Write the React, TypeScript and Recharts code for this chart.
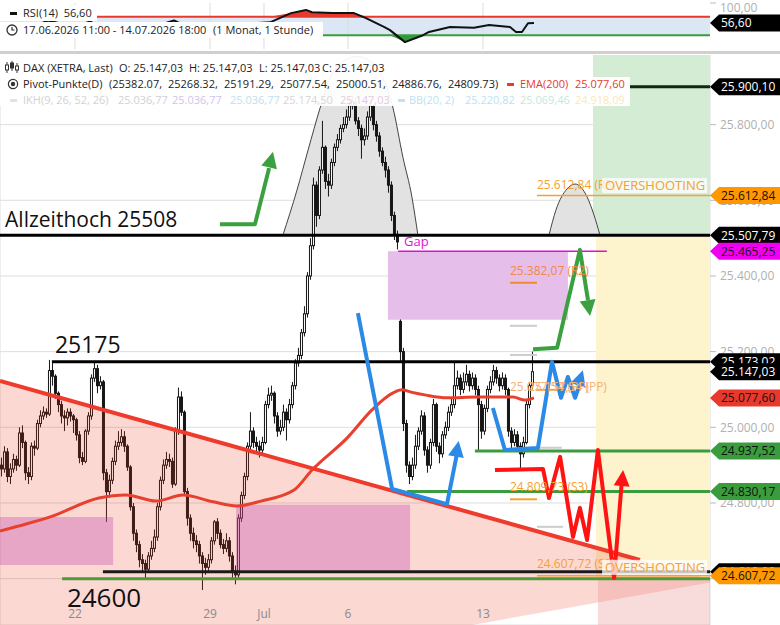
import React from "react";
import {
  Area,
  Bar,
  CartesianGrid,
  ComposedChart,
  ReferenceArea,
  ReferenceLine,
  Scatter,
  XAxis,
  YAxis,
} from "recharts";

const FONT = "'Open Sans', 'DejaVu Sans', sans-serif";

// x = hourly candle slot (17.06. 11:00 … 14.07. 18:00, then empty room to the right)
const X_MAX = 236.67;
const Y_MIN = 24477.5;
const Y_MAX = 25984;

const DAY_TICKS = [25, 70, 88, 116, 161];
const DAY_LABELS = ["22", "29", "Jul", "6", "13"];
const DAY_LABEL_Y = 24495;
const Y_TICKS = [24600, 24800, 25000, 25200, 25400, 25600, 25800];

const FIRST_OPEN = 24900;
const GAP_OPENS: Record<number, number> = { 133: 25280 };

const CLOSE = [
  24890, 24935, 24870, 24890, 24915, 24900, 24985,
  24960, 24880, 24870, 24950, 24945, 25010, 25030, 25040, 25035,
  25150, 25135, 25090, 25060, 25030, 25025, 25040, 25030, 25020,
  24980, 24920, 24910, 24990, 25030, 25130, 25155, 25110, 25120,
  24880, 24830, 24860, 24910, 24950, 24960, 24975, 24950, 24895,
  24790, 24720, 24690, 24650, 24640, 24625, 24660, 24680, 24710,
  24790, 24860, 24900, 24915, 24910, 24850, 24990, 25080, 25040,
  24830, 24760, 24720, 24700, 24690, 24660, 24640, 24630, 24650,
  24700, 24750, 24720, 24690, 24680, 24700, 24660, 24620, 24610,
  24760, 24820, 24870, 24950, 24990, 24960, 24950, 24940, 24960,
  25060, 25085, 25090, 25030, 24990, 25000, 25040, 25020, 25060,
  25110, 25170, 25190, 25250, 25300, 25400, 25480, 25640, 25560,
  25680, 25740, 25650, 25640, 25700, 25740, 25760, 25790, 25800,
  25820, 25850, 25860, 25810, 25790, 25760, 25770, 25820, 25850,
  25800, 25770, 25730, 25700, 25680, 25640, 25560, 25510, 25490,
  25200, 25010, 24900, 24870, 24900, 24950, 24990, 25030, 24940,
  24900, 24960, 25060, 24950, 24930, 24980, 25000, 25040, 25060,
  25110, 25130, 25100, 25120, 25140, 25110, 25130, 25100, 25060,
  24990, 25050, 25100, 25120, 25150, 25130, 25110, 25130, 25100,
  24990, 24960, 24980, 24950, 24930, 24960, 25060, 25110, 25147.03,
];

const HIGH = [
  24920, 24950, 24945, 24905, 24930, 24925, 25000,
  25005, 24965, 24895, 24960, 24965, 25020, 25045, 25055, 25050,
  25178, 25175, 25140, 25095, 25070, 25045, 25050, 25050, 25035,
  25025, 24990, 24935, 24995, 25040, 25140, 25175, 25165, 25135,
  25125, 24890, 24875, 24920, 24965, 24990, 24995, 24990, 24955,
  24900, 24800, 24730, 24700, 24665, 24650, 24670, 24700, 24730,
  24800, 24870, 24915, 24935, 24930, 24920, 25000, 25105, 25095,
  25045, 24840, 24770, 24735, 24715, 24700, 24670, 24655, 24665,
  24710, 24755, 24760, 24730, 24705, 24720, 24710, 24670, 24635,
  24770, 24830, 24880, 24960, 25040, 25000, 24975, 24965, 24975,
  25070, 25105, 25110, 25095, 25040, 25020, 25060, 25050, 25075,
  25120, 25180, 25210, 25260, 25320, 25410, 25500, 25660, 25650,
  25690, 25810, 25745, 25670, 25710, 25750, 25775, 25800, 25820,
  25840, 25870, 25875, 25870, 25820, 25800, 25790, 25835, 25865,
  25855, 25810, 25780, 25740, 25715, 25690, 25650, 25570, 25520,
  25285, 25210, 25020, 24910, 24920, 24980, 25000, 25045, 25040,
  24950, 24970, 25075, 25065, 24960, 24990, 25015, 25055, 25075,
  25175, 25150, 25140, 25145, 25165, 25150, 25145, 25140, 25110,
  25070, 25060, 25110, 25135, 25165, 25160, 25140, 25145, 25140,
  25105, 25000, 24995, 24990, 24960, 24975, 25070, 25120, 25200,
];

const LOW = [
  24870, 24880, 24855, 24850, 24880, 24885, 24895,
  24945, 24860, 24850, 24860, 24925, 24940, 25000, 25020, 25025,
  25030, 25110, 25075, 25040, 25010, 24990, 25005, 25015, 24985,
  24965, 24905, 24900, 24905, 24980, 25020, 25120, 25090, 25100,
  24860, 24750, 24815, 24850, 24900, 24940, 24950, 24935, 24885,
  24780, 24700, 24670, 24630, 24615, 24600, 24615, 24650, 24670,
  24700, 24780, 24850, 24890, 24895, 24840, 24845, 24980, 25030,
  24820, 24740, 24700, 24680, 24670, 24640, 24570, 24610, 24620,
  24640, 24690, 24705, 24680, 24665, 24670, 24645, 24600, 24585,
  24600, 24750, 24810, 24860, 24940, 24945, 24930, 24920, 24930,
  24955, 25050, 25070, 25010, 24975, 24980, 24990, 24965, 25010,
  25050, 25100, 25160, 25180, 25240, 25290, 25390, 25470, 25530,
  25550, 25670, 25630, 25610, 25630, 25690, 25730, 25750, 25780,
  25790, 25810, 25840, 25800, 25770, 25710, 25745, 25760, 25810,
  25785, 25755, 25715, 25690, 25660, 25620, 25545, 25495, 25470,
  25170, 24990, 24880, 24850, 24860, 24890, 24940, 24980, 24925,
  24880, 24890, 24950, 24935, 24905, 24920, 24970, 24990, 25030,
  25050, 25100, 25085, 25090, 25110, 25095, 25100, 25085, 24940,
  24970, 24980, 25040, 25090, 25110, 25115, 25095, 25100, 25085,
  24975, 24945, 24950, 24935, 24890, 24920, 24955, 25050, 25100,
];

const EMA_X = [0, 9, 17, 33, 42, 52, 61, 71, 79, 87, 98, 104, 116, 124, 131, 134, 137, 142, 149, 159, 171, 175, 178];
const EMA_V = [24726, 24745, 24764, 24813, 24821, 24805, 24821, 24803, 24792, 24805, 24834, 24887, 24974, 25046, 25091, 25099, 25093, 25085, 25078, 25080, 25080, 25072, 25077.6];

const RSI_X = [0, 2, 10, 16, 25, 30, 35, 45, 52, 58, 65, 75, 82, 90, 97, 102, 104, 111, 118, 122, 128, 130, 135, 141, 143, 150, 158, 163, 170, 172, 174, 176, 178];
const RSI_V = [56.5, 50, 45, 62, 48, 60, 42, 35, 50, 62, 40, 38, 55, 58, 78, 85, 80, 78, 78, 67, 48, 41, 15, 30, 37, 48, 46, 52, 48, 37, 37, 56, 56.6];
const RSI_LAST = 56.6;

// price levels
const TARGET_UP = 25900.1;
const R3 = 25612.84;
const ATH = 25507.79;
const GAP_LEVEL = 25465.25;
const RES = 25173.02;
const LAST = 25147.03;
const EMA_LAST = 25077.6;
const SUP_1 = 24937.52;
const SUP_2 = 24830.17;
const S3_NEXT = 24607.72;
const FLOOR_DARK = 24618;
const FLOOR_GREEN = 24600;
const ZONE_SPLIT = 24603;

const PIVOTS_D = [25382.07, 25268.32, 25191.29, 25077.54, 25000.51, 24886.76, 24809.73];
const PIVOTS_NEXT = [25099, 24946, 24737];

// drawings, in (slot, price)
const TREND = [{ x: 0, y: 25122.5 }, { x: 213.3, y: 24649.3 }];
const WEDGE = [
  { x: 0, lo: Y_MIN, hi: 25122.5 },
  { x: 157.3, lo: Y_MIN, hi: 24773.6 },
  { x: X_MAX, lo: 24589.5, hi: 24597.5 },
];
const DOME_BIG = [
  { x: 94.3, y: ATH }, { x: 99, y: 25627 }, { x: 102.7, y: 25733 }, { x: 106.7, y: 25844 },
  { x: 110, y: 25923 }, { x: 114, y: 25965 }, { x: 119, y: 25980 }, { x: 124, y: 25965 },
  { x: 127.7, y: 25923 }, { x: 131, y: 25844 }, { x: 134.3, y: 25714 }, { x: 137.3, y: 25609 },
  { x: 139.3, y: ATH },
];
const DOME_SMALL = [
  { x: 183, y: ATH }, { x: 185.3, y: 25574 }, { x: 189, y: 25630 }, { x: 191.7, y: 25643 },
  { x: 195.7, y: 25609 }, { x: 198, y: 25561 }, { x: 200, y: ATH },
];
const BLUE_1 = [{ x: 119.3, y: 25302 }, { x: 130.7, y: 24837 }, { x: 149, y: 24797 }, { x: 152.2, y: 24925 }];
const BLUE_2 = [
  { x: 164.3, y: 25051 }, { x: 168.3, y: 24940 }, { x: 179.3, y: 24945 }, { x: 184, y: 25173 },
  { x: 187, y: 25078 }, { x: 189.3, y: 25133 }, { x: 191.7, y: 25078 }, { x: 193.7, y: 25125 },
];
const GREEN_1 = [{ x: 73.3, y: 25537 }, { x: 85, y: 25537 }, { x: 89.7, y: 25685 }];
const GREEN_2 = [{ x: 177.7, y: 25206 }, { x: 185.7, y: 25210 }, { x: 193.3, y: 25469 }, { x: 196, y: 25336 }];
const RED_1 = [
  { x: 165, y: 24887 }, { x: 181, y: 24890 }, { x: 183, y: 24813 }, { x: 186.7, y: 24922 },
  { x: 191, y: 24710 }, { x: 193.3, y: 24787 }, { x: 195.7, y: 24702 }, { x: 199.3, y: 24940 },
  { x: 204.7, y: 24602 }, { x: 207.2, y: 24850 },
];

const fmt = (v: number) => {
  const [i, d] = v.toFixed(2).split(".");
  return i.replace(/\B(?=(\d{3})+(?!\d))/g, ".") + "," + d;
};

const candles = CLOSE.map((c, i) => ({
  x: i + 0.5,
  open: GAP_OPENS[i] ?? (i === 0 ? FIRST_OPEN : CLOSE[i - 1]),
  close: c,
  high: HIGH[i],
  low: LOW[i],
}));
const emaPts = EMA_X.map((x, i) => ({ x, y: EMA_V[i] }));
const rsiPts = RSI_X.map((x, i) => ({ x, y: RSI_V[i] }));

const Candle = (p: any) => {
  const { x, y, width, height, payload } = p;
  if (!payload) return null;
  const { open, close, high, low } = payload;
  const cx = x + width / 2;
  const span = high - low || 1;
  const at = (v: number) => y + ((high - v) / span) * height;
  const top = at(Math.max(open, close));
  const bot = at(Math.min(open, close));
  const up = close >= open;
  return (
    <g>
      <line x1={cx} x2={cx} y1={y} y2={y + height} stroke="#161616" strokeWidth={1} />
      <rect x={cx - 1} y={top} width={2} height={Math.max(bot - top, 0.8)} fill={up ? "#fff" : "#161616"} stroke="#161616" strokeWidth={1} />
    </g>
  );
};

const none = () => <g />;

function path(key: string, pts: any[], color: string, width: number, joint = "linear") {
  return (
    <Scatter
      key={key}
      data={pts}
      dataKey="y"
      fill={color}
      line={{ stroke: color, strokeWidth: width, strokeLinejoin: "round", strokeLinecap: "butt" }}
      lineJointType={joint as any}
      shape={none}
      isAnimationActive={false}
      zIndex={600}
    />
  );
}

function head(key: string, x: number, y: number, color: string, angle: number) {
  return (
    <Scatter
      key={key}
      data={[{ x, y }]}
      dataKey="y"
      isAnimationActive={false}
      zIndex={650}
      shape={(p: any) => (
        <polygon
          points={`${p.cx},${p.cy} ${p.cx - 8},${p.cy + 16} ${p.cx + 8},${p.cy + 16}`}
          fill={color}
          transform={`rotate(${angle} ${p.cx} ${p.cy})`}
        />
      )}
    />
  );
}

function note(key: string, x: number, y: number, text: string, color: string, size: number, box = false, anchor = "start") {
  return (
    <Scatter
      key={key}
      data={[{ x, y }]}
      dataKey="y"
      isAnimationActive={false}
      zIndex={2000}
      shape={(p: any) => (
        <g>
          {box && <rect x={p.cx - 3} y={p.cy - 12} width={105} height={15} fill="#fff" fillOpacity={0.75} />}
          <text x={p.cx} y={p.cy} fill={color} fontSize={size} fontFamily={FONT} textAnchor={anchor}>
            {text}
          </text>
        </g>
      )}
    />
  );
}

function tag(key: string, v: number, bg: string, fg: string, text?: string) {
  return (
    <Scatter
      key={key}
      data={[{ x: X_MAX, y: v }]}
      dataKey="y"
      isAnimationActive={false}
      zIndex={2100}
      shape={(p: any) => (
        <g>
          <polygon
            points={`${p.cx},${p.cy} ${p.cx + 9},${p.cy - 8.5} 780,${p.cy - 8.5} 780,${p.cy + 8.5} ${p.cx + 9},${p.cy + 8.5}`}
            fill={bg}
          />
          <text x={p.cx + 11} y={p.cy + 4.5} fill={fg} fontSize={12} fontFamily={FONT}>
            {text ?? fmt(v)}
          </text>
        </g>
      )}
    />
  );
}

function seg(key: string, v: number, from: number, to: number, color: string, width: number) {
  return (
    <ReferenceLine
      key={key}
      segment={[{ x: from, y: v }, { x: to, y: v }]}
      stroke={color}
      strokeWidth={width}
      zIndex={450}
    />
  );
}

function RsiChart() {
  return (
    <ComposedChart width={780} height={52} data={rsiPts} margin={{ top: 3, right: 0, bottom: 3, left: 0 }}>
      <XAxis type="number" dataKey="x" domain={[0, X_MAX]} hide />
      <YAxis
        orientation="right"
        dataKey="y"
        width={70}
        domain={[0, 100]}
        ticks={[0, 100]}
        tickFormatter={fmt}
        tick={{ fill: "#b0b0b0", fontSize: 12, fontFamily: FONT }}
        tickLine={{ stroke: "#bbb" }}
        tickSize={6}
        tickMargin={4}
        axisLine={false}
      />
      <ReferenceArea x1={0} x2={X_MAX} y1={30} y2={70} fill="#dbe7f5" fillOpacity={1} stroke="none" zIndex={-50} />
      {DAY_TICKS.map((t) => (
        <ReferenceLine key={"v" + t} x={t} stroke="#dddddd" zIndex={-40} />
      ))}
      <Area
        dataKey={(d: any) => [70, Math.max(d.y, 70)]}
        type="linear"
        fill="#e8392c"
        fillOpacity={1}
        stroke="none"
        isAnimationActive={false}
        zIndex={100}
      />
      <Area
        dataKey={(d: any) => [Math.min(d.y, 30), 30]}
        type="linear"
        fill="#2f9a3a"
        fillOpacity={1}
        stroke="none"
        isAnimationActive={false}
        zIndex={100}
      />
      <ReferenceLine y={70} stroke="#e8392c" strokeWidth={2} zIndex={450} />
      <ReferenceLine y={30} stroke="#3a9c3c" strokeWidth={2} zIndex={450} />
      {path("rsi", rsiPts, "#111", 2)}
      {tag("rsiTag", RSI_LAST, "#000", "#fff", "56,60")}
    </ComposedChart>
  );
}

function MainChart() {
  return (
    <ComposedChart width={780} height={570} data={candles} margin={{ top: 0, right: 0, bottom: 0, left: 0 }}>
      <XAxis
        type="number"
        dataKey="x"
        domain={[0, X_MAX]}
        ticks={DAY_TICKS}
        interval={0}
        height={0}
        tickSize={0}
        tickMargin={0}
        axisLine={false}
        tickLine={false}
        tick={false}
      />
      <YAxis
        orientation="right"
        dataKey="y"
        width={70}
        domain={[Y_MIN, Y_MAX]}
        ticks={Y_TICKS}
        tickFormatter={fmt}
        tick={{ fill: "#b0b0b0", fontSize: 12, fontFamily: FONT }}
        tickLine={{ stroke: "#bbb" }}
        tickSize={6}
        tickMargin={4}
        axisLine={false}
      />
      <CartesianGrid stroke="#dedede" />

      {/* zones */}
      <ReferenceArea x1={197.67} x2={X_MAX} y1={ATH} y2={Y_MAX} fill="#d3ecd3" fillOpacity={1} stroke="none" zIndex={50} />
      <ReferenceArea x1={198.67} x2={X_MAX} y1={ZONE_SPLIT} y2={ATH} fill="#fdf3cc" fillOpacity={1} stroke="none" zIndex={50} />
      <ReferenceArea x1={129.3} x2={189.3} y1={25284} y2={GAP_LEVEL} fill="#e5bfe9" fillOpacity={1} stroke="none" zIndex={50} />

      <Area data={DOME_BIG} dataKey={(d: any) => [ATH, d.y]} type="monotone" fill="#e2e2e2" fillOpacity={1} stroke="#444" strokeWidth={1} isAnimationActive={false} zIndex={60} />
      <Area data={DOME_SMALL} dataKey={(d: any) => [ATH, d.y]} type="monotone" fill="#e2e2e2" fillOpacity={1} stroke="#444" strokeWidth={1} isAnimationActive={false} zIndex={60} />

      {seg("floorDark", FLOOR_DARK, 34.3, X_MAX, "#1a1a1a", 3)}
      {seg("floorGreen", FLOOR_GREEN, 20.7, X_MAX, "#4c9a38", 3)}

      <Bar dataKey={(d: any) => [d.low, d.high]} barSize={3} shape={Candle} isAnimationActive={false} zIndex={300} />

      {/* pink wedge and boxes over the candles */}
      <Area data={WEDGE} dataKey={(d: any) => [d.lo, d.hi]} type="linear" fill="#ef3a22" fillOpacity={0.2} stroke="none" isAnimationActive={false} zIndex={350} />
      <ReferenceArea x1={0} x2={37.7} y1={24636} y2={24763} fill="#c34bb0" fillOpacity={0.35} stroke="none" zIndex={360} />
      <ReferenceArea x1={78.7} x2={136.7} y1={24623} y2={24795} fill="#c34bb0" fillOpacity={0.35} stroke="none" zIndex={360} />
      <ReferenceArea x1={199.33} x2={X_MAX} y1={Y_MIN} y2={ZONE_SPLIT} fill="#e88787" fillOpacity={0.3} stroke="none" zIndex={370} />

      {path("ema", emaPts, "#e8402f", 3, "monotoneX")}
      {path("trend", TREND, "#ee3b2b", 4)}

      {seg("ath", ATH, 0, X_MAX, "#000", 3)}
      {seg("res", RES, 17.3, X_MAX, "#000", 3)}
      {seg("sup1", SUP_1, 158.3, X_MAX, "#3a9c3c", 3)}
      {seg("sup2", SUP_2, 135.7, X_MAX, "#3a9c3c", 3)}
      {seg("up", TARGET_UP, 197.67, X_MAX, "#0f2a0f", 3)}
      {seg("gap", GAP_LEVEL, 132.7, 202.3, "#e010d0", 1.5)}
      {seg("r3", R3, 179, X_MAX, "#f7a030", 1.5)}
      {seg("s3n", S3_NEXT, 179, X_MAX, "#f7a030", 1.5)}
      {seg("pd0", PIVOTS_D[0], 170, 179, "#f08a30", 2)}
      {seg("pd1", PIVOTS_D[1], 170, 179, "#cccccc", 2)}
      {seg("pd2", PIVOTS_D[2], 170, 179, "#cccccc", 2)}
      {seg("pd6", PIVOTS_D[6], 170, 179, "#f7a030", 2)}
      {seg("pn0", PIVOTS_NEXT[0], 179, 187.7, "#f7a030", 2)}
      {seg("pn1", PIVOTS_NEXT[1], 179, 187.3, "#cccccc", 2)}
      {seg("pn2", PIVOTS_NEXT[2], 179, 187.7, "#cccccc", 2)}

      {path("blue1", BLUE_1, "#2a8ae6", 4)}
      {head("blue1h", 152.9, 24964, "#2a8ae6", 10)}
      {path("blue2", BLUE_2, "#2a8ae6", 4)}
      {head("blue2h", 194.3, 25151, "#2a8ae6", 18)}
      {path("green1", GREEN_1, "#3aa040", 4)}
      {head("green1h", 91, 25728, "#3aa040", 14)}
      {path("green2", GREEN_2, "#3aa040", 4)}
      {head("green2h", 196.7, 25294, "#3aa040", 171)}
      {path("red1", RED_1, "#ff1414", 4)}
      {head("red1h", 207.7, 24887, "#ff1414", 5)}

      {DAY_TICKS.map((t, i) => note("day" + t, t, DAY_LABEL_Y, DAY_LABELS[i], "#8a8a8a", 12, false, "middle"))}

      {note("ath", 1.7, 25530, "Allzeithoch 25508", "#111", 21)}
      {note("n25175", 18.3, 25196, "25175", "#111", 23)}
      {note("n24600", 22.3, 24526, "24600", "#111", 26)}
      {note("gapT", 134.7, 25480, "Gap", "#e010d0", 13)}
      {note("r3T", 179, 25630, "25.612,84 (R3)", "#f5a030", 12)}
      {note("r2T", 170, 25403, "25.382,07 (R2)", "#f0884a", 12)}
      {note("ppT", 170, 25096, "25.077,54 (PP)", "#f7b070", 12)}
      {note("ppT2", 176, 25096, "25.157,54 (PP)", "#f7b070", 12)}
      {note("s3T", 170, 24832, "24.809,73 (S3)", "#f5a030", 12)}
      {note("s3nT", 179, 24628, "24.607,72 (S3)", "#f5a030", 12)}
      {note("ov1", 201.7, 25627, "OVERSHOOTING", "#f5a030", 13, true)}
      {note("ov2", 201.7, 24618, "OVERSHOOTING", "#f5a030", 13, true)}

      {tag("tUp", TARGET_UP, "#000", "#fff")}
      {tag("tR3", R3, "#ff9800", "#111")}
      {tag("tAth", ATH, "#000", "#fff")}
      {tag("tGap", GAP_LEVEL, "#f000f0", "#111")}
      {tag("tRes", RES, "#000", "#fff")}
      {tag("tLast", LAST, "#000", "#fff")}
      {tag("tEma", EMA_LAST, "#e8392c", "#111")}
      {tag("tS1", SUP_1, "#3a9c3c", "#111")}
      {tag("tS2", SUP_2, "#3a9c3c", "#111")}
      {tag("tFloor", FLOOR_DARK, "#000", "#fff")}
      {tag("tS3", S3_NEXT, "#ff9800", "#111")}
    </ComposedChart>
  );
}

const T = ({ x, y, c = "#222", children }: any) => (
  <span style={{ position: "absolute", left: x, top: y, color: c, fontSize: 11, lineHeight: "14px", whiteSpace: "nowrap" }}>
    {children}
  </span>
);

export default function App() {
  return (
    <div style={{ position: "absolute", left: 0, top: 0, width: 780, height: 625, overflow: "hidden", background: "#fff", fontFamily: FONT }}>
      <div style={{ position: "absolute", left: 0, top: 0 }}>
        <RsiChart />
      </div>
      <div style={{ position: "absolute", left: 0, top: 5, width: 97, height: 16, background: "#fff" }} />
      <div style={{ position: "absolute", left: 10, top: 12, width: 7, height: 3, background: "#111" }} />
      <T x={23} y={6}>RSI(14)&nbsp;&nbsp;56,60</T>
      <div style={{ position: "absolute", left: 0, top: 22, width: 323, height: 16, background: "#fff" }} />
      <svg style={{ position: "absolute", left: 6, top: 24 }} width={12} height={12}>
        <circle cx={6} cy={6} r={5} fill="none" stroke="#333" strokeWidth={1.3} />
        <path d="M6 3 V6 H8.5" fill="none" stroke="#333" strokeWidth={1.2} />
      </svg>
      <T x={23} y={23}>17.06.2026 11:00 - 14.07.2026 18:00</T>
      <T x={213} y={23}>(1 Monat, 1 Stunde)</T>
      <div style={{ position: "absolute", left: 0, top: 51, width: 780, height: 3, background: "#d0d0d0" }} />

      <div style={{ position: "absolute", left: 0, top: 55 }}>
        <MainChart />
      </div>

      <div style={{ position: "absolute", left: 0, top: 55, width: 593, height: 51, background: "rgba(255,255,255,0.93)" }} />
      <div style={{ position: "absolute", left: 593, top: 77, width: 37, height: 29, background: "#fff" }} />
      <svg style={{ position: "absolute", left: 5, top: 61 }} width={14} height={13}>
        <path d="M2 1 V12 M7 0 V10 M12 2 V12" stroke="#333" strokeWidth={1} />
        <rect x={0.5} y={4} width={3} height={5} fill="#fff" stroke="#333" />
        <rect x={5.5} y={2} width={3} height={5} fill="#333" stroke="#333" />
        <rect x={10.5} y={5} width={3} height={4} fill="#fff" stroke="#333" />
      </svg>
      <T x={23} y={61}>DAX (XETRA, Last)</T>
      <T x={119} y={61}>O: 25.147,03</T>
      <T x={189} y={61}>H: 25.147,03</T>
      <T x={259} y={61}>L: 25.147,03</T>
      <T x={322} y={61}>C: 25.147,03</T>

      <svg style={{ position: "absolute", left: 7, top: 78 }} width={12} height={12}>
        <circle cx={6} cy={6} r={4.6} fill="none" stroke="#333" strokeWidth={1.2} />
        <circle cx={6} cy={6} r={2.2} fill="#333" />
      </svg>
      <T x={23} y={77}>Pivot-Punkte(D)</T>
      <T x={109} y={77}>({PIVOTS_D[0].toFixed(2)},</T>
      <T x={168} y={77}>{PIVOTS_D[1].toFixed(2)},</T>
      <T x={224} y={77}>{PIVOTS_D[2].toFixed(2)},</T>
      <T x={280} y={77}>{PIVOTS_D[3].toFixed(2)},</T>
      <T x={336} y={77}>{PIVOTS_D[4].toFixed(2)},</T>
      <T x={392} y={77}>{PIVOTS_D[5].toFixed(2)},</T>
      <T x={448} y={77}>{PIVOTS_D[6].toFixed(2)})</T>
      <div style={{ position: "absolute", left: 507, top: 83, width: 7, height: 3, background: "#e8392c" }} />
      <T x={520} y={77} c="#e8392c">EMA(200)</T>
      <T x={575} y={77} c="#e8392c">{fmt(EMA_LAST)}</T>

      <div style={{ position: "absolute", left: 10, top: 99, width: 7, height: 3, background: "#e2e2e2" }} />
      <T x={23} y={93} c="#d2d2d2">IKH(9, 26, 52, 26)</T>
      <T x={118} y={93} c="#d2d2d2">25.036,77</T>
      <T x={172} y={93} c="#d3c2ec">25.036,77</T>
      <T x={230} y={93} c="#bfe0ee">25.036,77</T>
      <T x={283} y={93} c="#d6d6d6">25.174,50</T>
      <T x={340} y={93} c="#e6cadc">25.147,03</T>
      <div style={{ position: "absolute", left: 398, top: 99, width: 7, height: 3, background: "#c2e1f5" }} />
      <T x={409} y={93} c="#bedff3">BB(20, 2)</T>
      <T x={465} y={93} c="#bedff3">25.220,82</T>
      <T x={520} y={93} c="#c4e8dc">25.069,46</T>
      <T x={575} y={93} c="#fbe9b4">24.918,09</T>
    </div>
  );
}
